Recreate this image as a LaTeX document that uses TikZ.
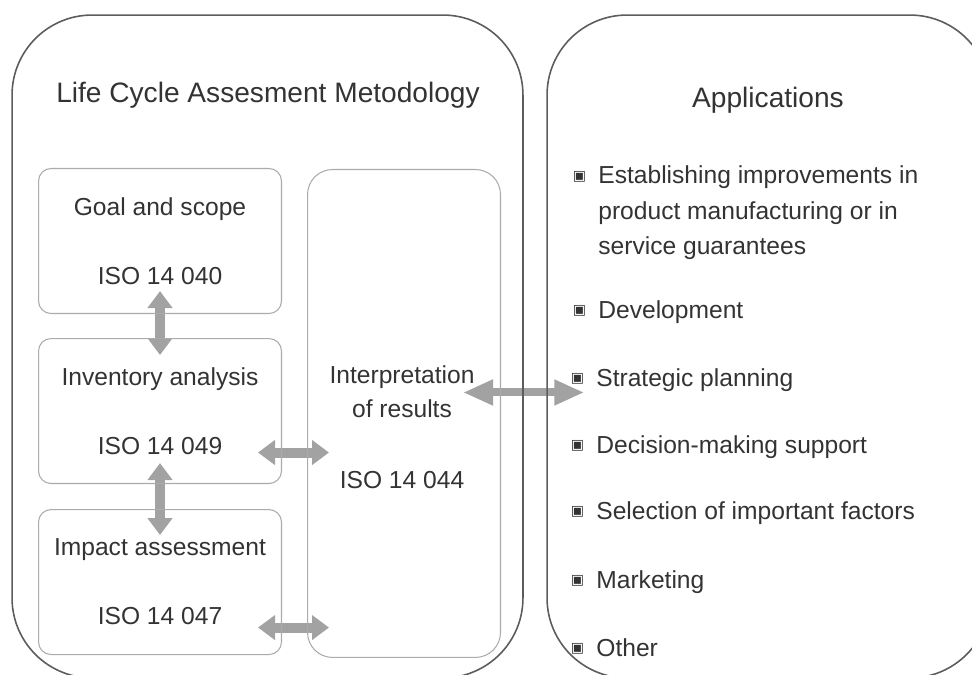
\documentclass[tikz,border=0pt]{standalone}
\usepackage{fontspec}
\setmainfont{Liberation Sans}
\newfontfamily\symfont{DejaVu Sans}
\usetikzlibrary{positioning,arrows.meta,backgrounds}

\definecolor{frame}{HTML}{5C5C5C}
\definecolor{inner}{HTML}{ABABAB}
\definecolor{arrowgray}{HTML}{A2A2A2}
\definecolor{ink}{HTML}{333333}
\newcommand{\appbullet}{\llap{\raisebox{2.2pt}{\symfont\fontsize{8pt}{8pt}\selectfont ▣}\hspace{7pt}}}

\begin{document}
\begin{tikzpicture}[
  x=0.02cm, y=-0.02cm,
  font=\fontsize{14pt}{17pt}\selectfont,
  text=ink,
  outer/.style={draw=frame, line width=0.9pt, rounded corners=1.6cm,
                minimum height=13.26cm},
  stage/.style={draw=inner, line width=0.6pt, rounded corners=0.25cm,
                minimum width=4.86cm, minimum height=2.9cm, align=center},
  head/.style={font=\fontsize{16pt}{19pt}\selectfont},
  item/.style={anchor=west, align=left, inner sep=0pt},
  link/.style={{Triangle[length=0.34cm,width=0.48cm]}-{Triangle[length=0.34cm,width=0.48cm]},
               line width=0.2cm, arrowgray},
  biglink/.style={{Triangle[length=0.6cm,width=0.48cm]}-{Triangle[length=0.6cm,width=0.48cm]},
               line width=0.16cm, arrowgray},
]
  \useasboundingbox (0,0) rectangle (972,675);

  % the two big frames
  \node[outer, minimum width=10.22cm] (lca) at (267.5,346.5) {};
  \node[outer, minimum width=8.86cm] (apps) at (768.5,346.5) {};
  \node[head] (lcatitle) at (268,95) {Life Cycle Assesment Metodology};
  \node[head] (appstitle) at (768,100) {Applications};

  % LCA phases
  \node[stage, anchor=north west] (goal) at (38,168) {Goal and scope\\[0.78cm]ISO 14 040};
  \node[stage, below=0.48cm of goal] (inv) {Inventory analysis\\[0.78cm]ISO 14 049};
  \node[stage, below=0.5cm of inv] (impact) {Impact assessment\\[0.78cm]ISO 14 047};
  \node[stage, anchor=north west, rounded corners=0.5cm, minimum width=3.86cm,
        minimum height=9.76cm] (interp) at (307,169) {};
  \node[align=center] (interptxt) at (402,427)
    {Interpretation\\[2.3pt]of results\\[0.82cm]ISO 14 044};

  % applications
  \node[item] (est) at (598,213)
    {\appbullet Establishing improvements in\\[0.11cm]product manufacturing or in\\[0.11cm]service guarantees};
  \node[item] (dev) at (598,312) {\appbullet Development};
  \node[item] (strat) at (596,380) {\appbullet Strategic planning};
  \node[item] (dec) at (596,447) {\appbullet Decision-making support};
  \node[item] (sel) at (596,513) {\appbullet Selection of important factors};
  \node[item] (mkt) at (596,582) {\appbullet Marketing};
  \node[item] (other) at (596,648) {\appbullet Other};

  \begin{scope}[on background layer]
    \draw[link, shorten <=-0.46cm, shorten >=-0.34cm] (goal.south) -- (inv.north);
    \draw[link, shorten <=-0.42cm, shorten >=-0.52cm] (inv.south) -- (impact.north);
    \draw[link, shorten <=-0.48cm, shorten >=-0.44cm]
      ([yshift=-0.83cm]inv.east) -- ([yshift=-0.83cm]inv.east -| interp.west);
    \draw[link, shorten <=-0.48cm, shorten >=-0.44cm]
      ([yshift=-0.91cm]impact.east) -- ([yshift=-0.91cm]impact.east -| interp.west);
    \draw[biglink, shorten <=-0.76cm, shorten >=-0.76cm]
      ([yshift=0.42cm]interp.east) -- ([yshift=0.42cm]interp.east -| apps.west);
  \end{scope}
\end{tikzpicture}
\end{document}
